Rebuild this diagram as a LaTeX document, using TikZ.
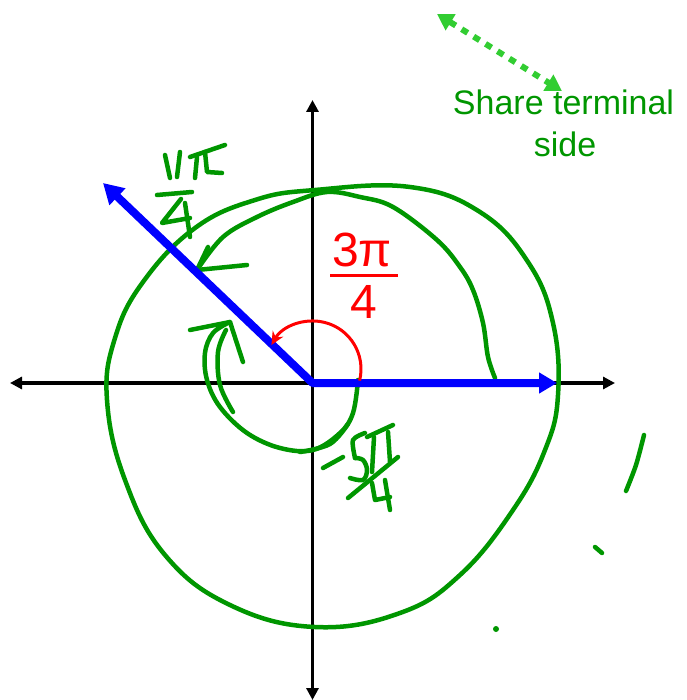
\documentclass[tikz,border=0pt]{standalone}
\usepackage{fontspec}
\setmainfont{Liberation Sans}
\usetikzlibrary{arrows.meta}
\definecolor{hand}{RGB}{0,150,0}
\definecolor{limeg}{RGB}{50,205,50}
\definecolor{pblue}{RGB}{0,0,255}
\definecolor{pred}{RGB}{255,0,0}
\begin{document}
\begin{tikzpicture}[x=1pt,y=-1pt,
  axisline/.style={line width=3.5pt,{Triangle[length=12pt,width=12pt]}-{Triangle[length=12pt,width=12pt]}},
  rayline/.style={pblue,line width=8pt,line join=round,{Triangle[length=20pt,width=22pt]}-{Triangle[length=18pt,width=20pt]}},
  hstroke/.style={hand,line width=4.5pt,line cap=round,line join=round},
  dotarrow/.style={limeg,line width=6pt,dash pattern=on 7pt off 7pt,{Triangle[length=16pt,width=18pt]}-{Triangle[length=16pt,width=18pt]}},
  gtext/.style={text=hand,font=\fontsize{34}{40}\selectfont,inner sep=0pt,anchor=base},
  rtext/.style={text=pred,font=\fontsize{48}{56}\selectfont,inner sep=0pt,anchor=base}]
\useasboundingbox (0,0) rectangle (686,700);
% axes
\coordinate (O) at (312.5,383);
\coordinate (xl) at (10,383);
\coordinate (xr) at (615,383);
\coordinate (yt) at (312.5,100);
\coordinate (yb) at (312.5,700);
\draw[axisline] (xl) -- (xr);
\draw[axisline] (yt) -- (yb);
% big circle
\draw[hstroke] plot[smooth cycle,tension=0.7] coordinates {
  (315,190) (410,187) (480,212) (528,262) (553,323) (558,395) (545,450)
  (513,510) (460,575) (400,613) (315,627) (230,605) (165,555) (125,480)
  (107,400) (115,338) (143,282) (195,228) (255,200)};
% 11pi/4 inner spiral
\draw[hstroke] plot[smooth,tension=0.6] coordinates {
  (495,378) (488,357) (483,323) (473,290) (460,267) (437,240) (393,207)
  (360,197) (327,192) (293,202) (257,217) (223,237) (197,270)};
\coordinate (s1) at (208,247);
\coordinate (s2) at (197,270);
\coordinate (s3) at (247,265);
\draw[hstroke] (s1) -- (s2) -- (s3);
% -5pi/4 small loop
\draw[hstroke] plot[smooth,tension=0.6] coordinates {
  (358,380) (353,413) (340,433) (313,450) (280,448) (247,433) (220,407)
  (207,380) (205,353) (213,333) (230,322)};
\draw[hstroke] plot[smooth,tension=0.6] coordinates {
  (226,330) (218,352) (220,385) (233,412)};
\draw[hstroke] plot[smooth,tension=0.6] coordinates {
  (300,452) (330,444) (348,424)};
\coordinate (l1) at (190,330);
\coordinate (l2) at (230,322);
\coordinate (l3) at (243,362);
\draw[hstroke] (l1) -- (l2) -- (l3);
% blue rays
\coordinate (tnw) at (103,183);
\coordinate (te) at (557,383);
\draw[rayline] (tnw) -- (O) -- (te);
% red arc 3pi/4
\coordinate (rc) at (313,369);
\draw[pred,line width=3pt,-{Stealth[length=13pt,width=12pt]}] ([shift={(14:48)}]rc) arc[start angle=14,end angle=-150,radius=48];
\node[rtext] (num) at (362,266) {3π};
\coordinate (fb1) at (330,275);
\coordinate (fb2) at (398,275);
\draw[pred,line width=3pt] (fb1) -- (fb2);
\node[rtext] (den) at (364,318) {4};
% 11pi/4 label
\draw[hstroke] (165,155) -- (170,178);
\draw[hstroke] (180,152) -- (177,177);
\draw[hstroke] (190,157) -- (225,145);
\draw[hstroke] (197,157) -- (195,178);
\draw[hstroke] (205,152) -- (207,172) -- (222,173);
\draw[hstroke] (157,195) -- (192,192);
\draw[hstroke] (181,199) -- (162,223) -- (190,218);
\draw[hstroke] (185,203) -- (190,237);
% -5pi/4 label
\draw[hstroke] (323,468) -- (343,457);
\draw[hstroke] plot[smooth,tension=0.5] coordinates {(365,433) (353,440) (355,458)};
\draw[hstroke] plot[smooth,tension=0.6] coordinates {(355,458) (363,460) (367,470) (363,480) (350,478)};
\draw[hstroke] (367,437) -- (393,425);
\draw[hstroke] (374,437) -- (372,472);
\draw[hstroke] (388,432) -- (390,462);
\draw[hstroke] (348,498) -- (398,457);
\draw[hstroke] (372,483) -- (375,500) -- (390,497);
\draw[hstroke] (385,480) -- (390,510);
% stray marks
\draw[hstroke] plot[smooth] coordinates {(644,435) (636,465) (626,491)};
\draw[hstroke] (595,547) -- (602,553);
\fill[hand] (496,629) circle[radius=3];
% share terminal side
\coordinate (d1) at (437,14);
\coordinate (d2) at (562,91);
\draw[dotarrow] (d1) -- (d2);
\node[gtext] (share) at (563.5,115) {Share terminal};
\node[gtext] (side) at (565,157) {side};
\end{tikzpicture}
\end{document}
